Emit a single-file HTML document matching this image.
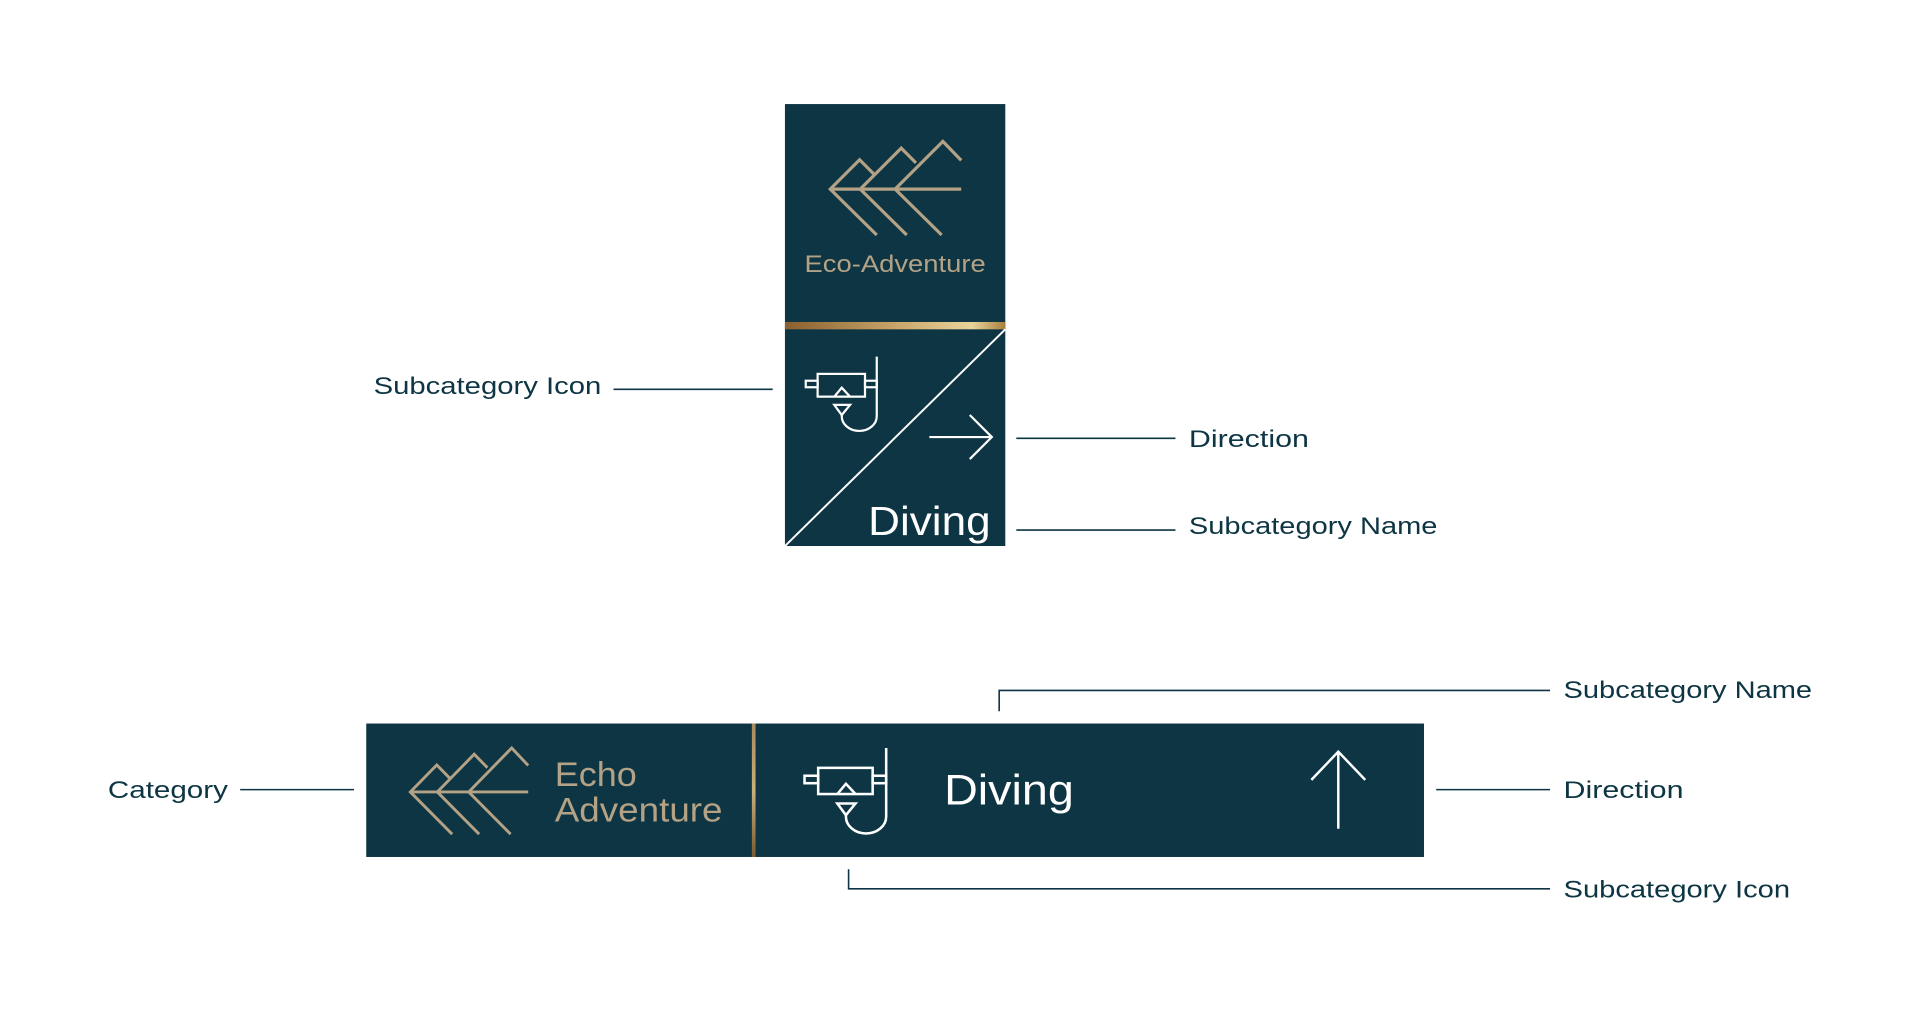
<!DOCTYPE html>
<html><head><meta charset="utf-8"><style>
html,body{margin:0;padding:0;background:#fff;}
svg{display:block;}
text{font-family:"Liberation Sans",sans-serif;}
</style></head><body>
<svg width="1920" height="1010" viewBox="0 0 1568 825" xmlns="http://www.w3.org/2000/svg">
<defs>
<linearGradient id="gold" x1="0" x2="1" y1="0" y2="0">
<stop offset="0" stop-color="#8a5f2e"/><stop offset="0.5" stop-color="#c9a56a"/><stop offset="0.85" stop-color="#e8d49a"/><stop offset="1" stop-color="#a9803f"/>
</linearGradient>
<linearGradient id="goldv" x1="0" x2="0" y1="0" y2="1">
<stop offset="0" stop-color="#a98b5a"/><stop offset="0.5" stop-color="#c9b07a"/><stop offset="1" stop-color="#7a5a30"/>
</linearGradient>
<g id="mtn" fill="none" stroke="#b4a286" stroke-width="2.6" stroke-linecap="butt">
<line x1="678" y1="154.5" x2="785" y2="154.5"/>
<polyline points="716,192 678,154.5 702,130.5 714,142.5"/>
<polyline points="740.5,192 702.5,154.5 736,121 748,133"/>
<polyline points="769,192 731,154.5 770,115.5 785,131"/>
</g>
<g id="snk" fill="none" stroke="#fff" stroke-width="1.8">
<rect x="667.7" y="305.4" width="38.7" height="18.6"/>
<rect x="658" y="311" width="9.7" height="5.3"/>
<rect x="706.4" y="311" width="9.6" height="5.3"/>
<polyline points="681.3,324 687.4,316.7 694.2,324"/>
<polygon points="681.3,330.7 694.2,330.7 687.4,339"/>
<path d="M716,291.3 V340 A14.3,12 0 0 1 687.4,340 V339"/>
</g>
</defs>

<!-- top sign -->
<rect x="641" y="85" width="180" height="361" fill="#0d3543"/>
<rect x="641" y="263" width="180" height="6" fill="url(#gold)"/>
<line x1="821" y1="269" x2="641" y2="446" stroke="#fff" stroke-width="1.6"/>
<use href="#mtn"/>
<text x="657" y="222" font-size="20" fill="#b4a286" textLength="148" lengthAdjust="spacingAndGlyphs">Eco-Adventure</text>
<use href="#snk"/>
<g stroke="#fff" stroke-width="1.8" fill="none">
<line x1="759" y1="357" x2="810" y2="357"/>
<polyline points="792,339 810,357 792,375"/>
</g>
<text x="709" y="437" font-size="33" fill="#fff" textLength="100" lengthAdjust="spacingAndGlyphs">Diving</text>

<!-- top labels -->
<g stroke="#0d3543" stroke-width="1.3">
<line x1="501" y1="318" x2="631" y2="318"/>
<line x1="830" y1="358" x2="960" y2="358"/>
<line x1="830" y1="433" x2="960" y2="433"/>
</g>
<g font-size="20" fill="#0d3543">
<text x="305" y="322" textLength="186" lengthAdjust="spacingAndGlyphs">Subcategory Icon</text>
<text x="971" y="365" textLength="98" lengthAdjust="spacingAndGlyphs">Direction</text>
<text x="971" y="436" textLength="203" lengthAdjust="spacingAndGlyphs">Subcategory Name</text>
</g>

<!-- bottom sign -->
<rect x="299" y="591" width="864" height="109" fill="#0d3543"/>
<rect x="614" y="591" width="3" height="109" fill="url(#goldv)"/>
<use href="#mtn" transform="translate(335,611) scale(0.9,0.92) translate(-678,-115.5)"/>
<text x="453" y="642" font-size="28" fill="#b4a286" textLength="67" lengthAdjust="spacingAndGlyphs">Echo</text>
<text x="453" y="671" font-size="28" fill="#b4a286" textLength="137" lengthAdjust="spacingAndGlyphs">Adventure</text>
<use href="#snk" transform="translate(657,611) scale(1.15,1.15) translate(-658,-291.3)"/>
<text x="771" y="657" font-size="35" fill="#fff" textLength="106" lengthAdjust="spacingAndGlyphs">Diving</text>
<g stroke="#fff" stroke-width="2" fill="none">
<line x1="1093" y1="614" x2="1093" y2="677"/>
<polyline points="1071,637 1093,614 1115,637"/>
</g>

<!-- bottom labels -->
<g stroke="#0d3543" stroke-width="1.3" fill="none">
<line x1="196" y1="645" x2="289" y2="645"/>
<polyline points="816,581 816,564 1266,564"/>
<line x1="1173" y1="645" x2="1266" y2="645"/>
<polyline points="693,710 693,726 1266,726"/>
</g>
<g font-size="20" fill="#0d3543">
<text x="88" y="652" textLength="98" lengthAdjust="spacingAndGlyphs">Category</text>
<text x="1277" y="570" textLength="203" lengthAdjust="spacingAndGlyphs">Subcategory Name</text>
<text x="1277" y="652" textLength="98" lengthAdjust="spacingAndGlyphs">Direction</text>
<text x="1277" y="733" textLength="185" lengthAdjust="spacingAndGlyphs">Subcategory Icon</text>
</g>
</svg>
</body></html>
